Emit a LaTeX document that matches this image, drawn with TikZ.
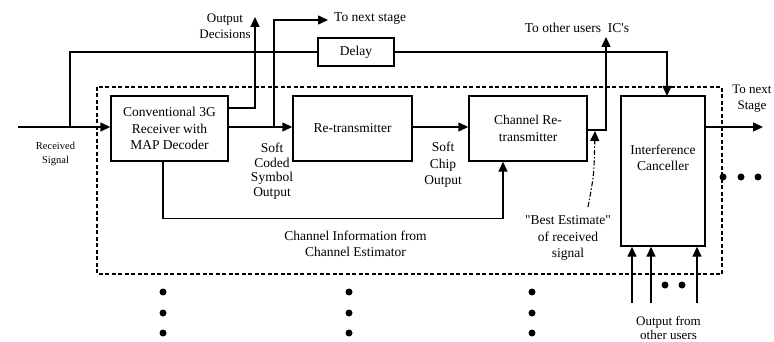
\documentclass[tikz,border=0pt]{standalone}
\usepackage{fontspec}
\setmainfont{Liberation Serif}[Ligatures=TeXOff]
\usetikzlibrary{arrows.meta,calc}
\begin{document}
\begin{tikzpicture}[x=1pt,y=-1pt,
  every node/.style={font=\fontsize{13.5}{16.5}\selectfont, inner sep=0pt},
  blk/.style={draw, line width=1.4pt, align=center},
  lbl/.style={align=center},
  wire/.style={line width=1.4pt},
  arr/.style={line width=1.4pt, -{Triangle[length=10pt,width=9pt]}},
  dotm/.style={circle, fill, minimum size=7pt, inner sep=0pt}]
\useasboundingbox (0,0) rectangle (774,342);
\clip (0,0) rectangle (774,342);
\fill[white] (0,0) rectangle (774,342);

% dashed enclosure
\draw[dashed, line width=1.1pt, dash pattern=on 4pt off 2.5pt] (97,87) rectangle (722,274);

% blocks
\node[blk, minimum width=117pt, minimum height=65pt] (conv) at (169.5,128.5) {Conventional 3G\\Receiver with\\MAP Decoder};
\node[blk, minimum width=119pt, minimum height=65pt] (retx) at (352.5,128.5) {Re-transmitter};
\node[blk, minimum width=118pt, minimum height=65pt] (chre) at (528,128.5) {Channel Re-\\transmitter};
\node[blk, minimum width=84pt, minimum height=150pt] (ic) at (663,171) {};
\node[lbl] (ictext) at (663,158) {Interference\\Canceller};
\node[blk, minimum width=76pt, minimum height=28pt] (delay) at (356,52) {Delay};

% labels
\node[lbl, font=\fontsize{10.5}{14.5}\selectfont] (rs) at (55.5,154) {Received\\Signal};
\node[lbl, font=\fontsize{13}{16}\selectfont] (od) at (225,26) {Output\\Decisions};
\node[anchor=west] (tns) at (334,19) {To next stage};
\node[lbl, font=\fontsize{13.5}{14.5}\selectfont] (scso) at (272,171) {Soft\\Coded\\Symbol\\Output};
\node[lbl] (sco) at (443,165) {Soft\\Chip\\Output};
\node (tou) at (577,28) {To other users\ \ IC's};
\node[lbl] (cinfo) at (355.5,244) {Channel Information from\\Channel Estimator};
\node[lbl] (best) at (568,238) {"Best Estimate"\\of received\\signal};
\node[lbl, font=\fontsize{13}{16}\selectfont] (tnx) at (752,99) {To next\\Stage};
\node[lbl, font=\fontsize{13}{14}\selectfont] (ofo) at (668.5,328) {Output from\\other users};

% coordinates
\coordinate (in) at (18,127);
\coordinate (b1) at (70,127);
\coordinate (b2) at (274,127);
\coordinate (odtip) at (255,17);
\coordinate (tnstip) at (328,20);
\coordinate (toutip) at (606,37);
\coordinate (icin) at (667,96);
\coordinate (icout) at (763,127);
\coordinate (bstart) at (588,207);
\coordinate (btip) at (595,131);
\coordinate (u1) at (632,303);
\coordinate (u2) at (651,303);
\coordinate (u3) at (697,303);

% connectors
\draw[arr] (in) -- (in -| conv.west);
\draw[wire] (b1) |- (delay.west);
\draw[arr] (delay.east) -| (icin);
\draw[arr] ([yshift=20.5pt]conv.east) -| (odtip);
\draw[arr] ([yshift=1.5pt]conv.east) -- ([yshift=1.5pt]retx.west);
\draw[arr] (b2) |- (tnstip);
\draw[arr] ([yshift=1.5pt]retx.east) -- ([yshift=1.5pt]chre.west);
\draw[arr] ([xshift=-6.5pt]conv.south) -- ++(0,57) -| ([xshift=-25pt]chre.south);
\draw[arr] ([yshift=-1.5pt]chre.east) -| (toutip);
\draw[arr, line width=1.1pt, dash pattern=on 5pt off 2pt on 1.5pt off 2pt] (bstart) .. controls (594,175) .. (btip);
\draw[arr] ([yshift=44pt]ic.east) -- (icout);
\draw[arr] (u1) -- (u1 |- ic.south);
\draw[arr] (u2) -- (u2 |- ic.south);
\draw[arr] (u3) -- (u3 |- ic.south);

% dots
\foreach \x in {723,741,758} \node[dotm] at (\x,177) {};
\foreach \x in {665,682} \node[dotm] at (\x,285) {};
\foreach \x in {163,349,532} \foreach \y in {292,313,333} \node[dotm] at (\x,\y) {};
\end{tikzpicture}
\end{document}
